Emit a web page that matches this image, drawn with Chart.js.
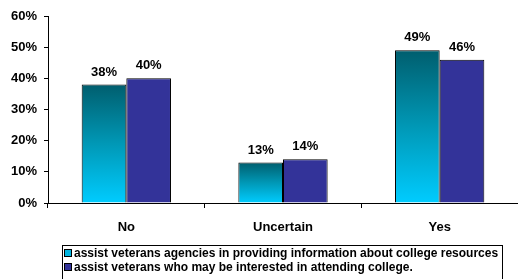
<!DOCTYPE html>
<html>
<head>
<meta charset="utf-8">
<script src="https://cdn.jsdelivr.net/npm/chart.js@4"></script>
<style>
  html, body { margin: 0; padding: 0; background: #fff; }
  #wrap { position: relative; width: 518px; height: 279px; }
</style>
</head>
<body>
<div id="wrap"><canvas id="c"></canvas></div>
<script>
const categories = ['No', 'Uncertain', 'Yes'];
const agenciesValues = [38, 13, 49];
const attendingValues = [40, 14, 46];
const seriesLabels = [
  'assist veterans agencies in providing information about college resources',
  'assist veterans who may be interested in attending college.'
];
const yTicks = [0, 10, 20, 30, 40, 50, 60];

const FONT = 'Arial, "Liberation Sans", sans-serif';

// teal -> cyan gradient, stretched over each bar's own height
function barGradient(ctx) {
  const chart = ctx.chart;
  const y = chart.scales.y;
  if (!y || ctx.raw === undefined) return '#0099bb';
  const top = y.getPixelForValue(ctx.raw);
  const bottom = y.getPixelForValue(0);
  if (!isFinite(top) || !isFinite(bottom) || top === bottom) return '#0099bb';
  const g = chart.ctx.createLinearGradient(0, top, 0, bottom);
  g.addColorStop(0, '#005e6e');
  g.addColorStop(0.5, '#0098b6');
  g.addColorStop(1, '#00ccff');
  return g;
}

const valueLabels = {
  id: 'valueLabels',
  afterDatasetsDraw(chart) {
    const c = chart.ctx;
    c.save();
    c.font = 'bold 13px ' + FONT;
    c.fillStyle = '#000';
    c.textAlign = 'center';
    c.textBaseline = 'bottom';
    chart.data.datasets.forEach((ds, i) => {
      chart.getDatasetMeta(i).data.forEach((bar, j) => {
        c.fillText(ds.data[j] + '%', bar.x, bar.y - 6);
      });
    });
    c.restore();
  }
};

const boxLegend = {
  id: 'boxLegend',
  afterDraw(chart) {
    const c = chart.ctx;
    const left = 62, top = 245, w = 440, h = 40;
    c.save();
    c.strokeStyle = '#000';
    c.lineWidth = 1;
    c.strokeRect(left + 0.5, top + 0.5, w, h);
    c.font = 'bold 12px ' + FONT;
    c.textBaseline = 'middle';
    chart.data.datasets.forEach((ds, i) => {
      const cy = top + 8 + i * 14;
      c.fillStyle = i === 0 ? '#00b4e0' : ds.backgroundColor;
      c.fillRect(left + 2, cy - 4, 8, 8);
      c.strokeStyle = '#000';
      c.strokeRect(left + 2.5, cy - 3.5, 7, 7);
      c.fillStyle = '#000';
      c.fillText(ds.label, left + 12, cy + 0.5);
    });
    c.restore();
  }
};

new Chart(document.getElementById('c'), {
  type: 'bar',
  data: {
    labels: categories,
    datasets: [
      {
        label: seriesLabels[0],
        data: agenciesValues,
        backgroundColor: barGradient,
        borderColor: '#000',
        borderWidth: 1,
        categoryPercentage: 0.57,
        barPercentage: 1
      },
      {
        label: seriesLabels[1],
        data: attendingValues,
        backgroundColor: '#333399',
        borderColor: '#000',
        borderWidth: 1,
        categoryPercentage: 0.57,
        barPercentage: 1
      }
    ]
  },
  options: {
    responsive: true,
    maintainAspectRatio: false,
    animation: false,
    layout: { padding: { top: 16, right: 0, bottom: 42, left: 0 } },
    plugins: {
      legend: { display: false },
      tooltip: { enabled: false }
    },
    scales: {
      x: {
        grid: { offset: true, drawOnChartArea: false, tickLength: 5, color: '#000' },
        border: { color: '#000' },
        ticks: { color: '#000', font: { family: FONT, size: 13, weight: 'bold' }, padding: 12 },
        afterFit: s => { s.height = 34; }
      },
      y: {
        min: 0,
        max: 60,
        afterBuildTicks: s => { s.ticks = yTicks.map(v => ({ value: v })); },
        grid: { drawOnChartArea: false, tickLength: 4, color: '#000' },
        border: { color: '#000' },
        ticks: {
          color: '#000',
          font: { family: FONT, size: 13, weight: 'bold' },
          padding: 7,
          callback: v => v + '%'
        },
        afterFit: s => { s.width = 48; }
      }
    }
  },
  plugins: [valueLabels, boxLegend]
});
</script>
</body>
</html>
